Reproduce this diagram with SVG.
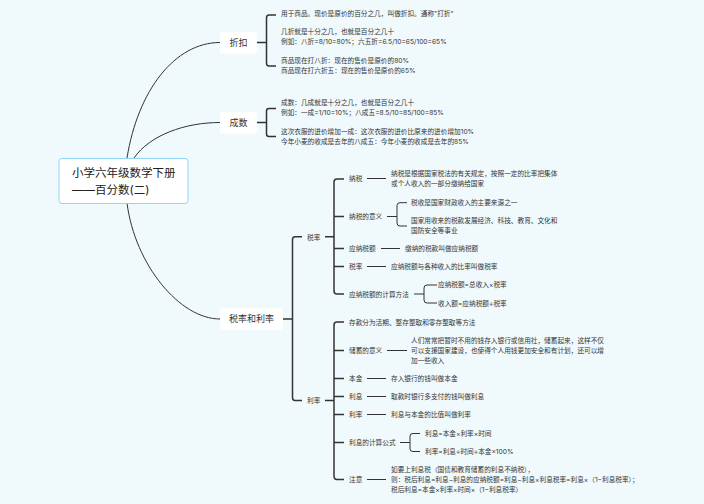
<svg xmlns="http://www.w3.org/2000/svg" width="704" height="504" viewBox="0 0 704 504">
<style>
text{font-family:"Inter","Noto Sans CJK SC",sans-serif;fill:#333;font-size:6.67px}
.b{font-size:9px;text-anchor:middle}
.r{font-size:11.5px;fill:#222}
.p{fill:#fff}
#c path{fill:none;stroke:#333;stroke-width:1}
#c .s{stroke-width:1.5}
</style>
<rect width="704" height="504" fill="#f0f9fc"/>
<g id="c">
<path d="M127 158C138 90 175 42.5 220 42.5"/>
<path d="M134 158C150 135 185 122.5 220 122.5"/>
<path d="M127 203C135 265 180 319 220 319"/>
<path class="s" d="M257 42.5H266M276 15H269Q266.500 15 266.500 18V63Q266.500 66 269 66H276"/>
<path class="s" d="M257 122.500H266M276 108.500H269Q266.500 108.500 266.500 111V134Q266.500 136.500 269 136.500H276"/>
<path class="s" d="M283 319H292M302 236.700H295Q292.500 236.700 292.500 239.500V397.500Q292.500 400.500 295 400.500H302"/>
<path class="s" d="M325 236.700H334M344 179H337Q334 179 334 182V291Q334 294 337 294H344M334 216.500H344M334 248.500H344M334 266.500H344"/>
<path class="s" d="M325 400.500H334M344 322H337Q334 322 334 325V476Q334 479.500 337 479.500H344M334 350.500H344M334 378.500H344M334 396.500H344M334 414.500H344M334 442.500H344"/>
<path d="M367 178.500H386M381 248.500H400M367 266.500H386M387 350.500H407M367 378.500H386M367 396.500H386M367 414.500H386M367 479.500H386"/>
<path d="M387 216.500H397M407 202.700H400Q397 202.700 397 205.500V223Q397 226 400 226H407"/>
<path d="M414 294H424M437 285H427Q424 285 424 288V300Q424 303 427 303H437"/>
<path d="M400 442.500H410M420 433.500H413Q410 433.500 410 436V449Q410 451.500 413 451.500H420"/>
</g>
<g id="root"><rect x="59" y="158.500" width="129" height="45" rx="3" fill="#fff" stroke="#8fd8fb" stroke-width="1"/><text class="r" x="72" y="177">小学六年级数学下册</text><text class="r" x="72" y="194">——百分数(二)</text></g>
<g id="zhekou"><rect class="p" x="220" y="32" width="37" height="21.500" rx="3"/><text class="b" x="238.500" y="46">折扣</text>
<text x="281" y="16">用于商品。现价是原价的百分之几，叫做折扣。通称"打折"</text>
<text x="281" y="34">几折就是十分之几，也就是百分之几十</text>
<text x="281" y="44">例如：八折=8/10=80%；六五折=6.5/10=65/100=65%</text>
<text x="281" y="63">商品现在打八折：现在的售价是原价的80%</text>
<text x="281" y="73">商品现在打六折五：现在的售价是原价的65%</text></g>
<g id="chengshu"><rect class="p" x="220" y="112" width="37" height="21.500" rx="3"/><text class="b" x="238.500" y="126">成数</text>
<text x="281" y="105">成数：几成就是十分之几，也就是百分之几十</text>
<text x="281" y="115">例如：一成=1/10=10%；八成五=8.5/10=85/100=85%</text>
<text x="281" y="134">这次衣服的进价增加一成：这次衣服的进价比原来的进价增加10%</text>
<text x="281" y="144">今年小麦的收成是去年的八成五：今年小麦的收成是去年的85%</text></g>
<g id="shuilv-lilv"><rect class="p" x="220" y="308" width="63" height="22" rx="3"/><text class="b" x="251.500" y="322">税率和利率</text></g>
<g id="shuilv"><text x="307" y="239.500">税率</text></g>
<g id="nashui"><text x="349" y="181">纳税</text><text x="391" y="176">纳税是根据国家税法的有关规定，按照一定的比率把集体</text><text x="391" y="186">或个人收入的一部分缴纳给国家</text></g>
<g id="nashui-yiyi"><text x="349" y="219">纳税的意义</text><text x="411" y="205">税收是国家财政收入的主要来源之一</text><text x="411" y="223">国家用收来的税款发展经济、科技、教育、文化和</text><text x="411" y="233">国防安全等事业</text></g>
<g id="yingna"><text x="349" y="251">应纳税额</text><text x="405" y="251">缴纳的税款叫做应纳税额</text></g>
<g id="shuilv2"><text x="349" y="269">税率</text><text x="391" y="269">应纳税额与各种收入的比率叫做税率</text></g>
<g id="jisuan"><text x="349" y="296.500">应纳税额的计算方法</text><text x="438" y="287">应纳税额=总收入×税率</text><text x="438" y="306">收入额=应纳税额÷税率</text></g>
<g id="lilv"><text x="307" y="403">利率</text></g>
<g id="cunkuan"><text x="349" y="324.500">存款分为活期、整存整取和零存整取等方法</text></g>
<g id="chuxu"><text x="349" y="353">储蓄的意义</text><text x="411" y="343">人们常常把暂时不用的钱存入银行或信用社，储蓄起来，这样不仅</text><text x="411" y="353">可以支援国家建设，也使得个人用钱更加安全和有计划，还可以增</text><text x="411" y="363">加一些收入</text></g>
<g id="benjin"><text x="349" y="381">本金</text><text x="391" y="381">存入银行的钱叫做本金</text></g>
<g id="lixi"><text x="349" y="399">利息</text><text x="391" y="399">取款时银行多支付的钱叫做利息</text></g>
<g id="lilv2"><text x="349" y="417">利率</text><text x="391" y="417">利息与本金的比值叫做利率</text></g>
<g id="gongshi"><text x="349" y="445">利息的计算公式</text><text x="425" y="436">利息=本金×利率×时间</text><text x="425" y="454">利率=利息÷时间÷本金×100%</text></g>
<g id="zhuyi"><text x="349" y="482">注意</text><text x="391" y="472">如要上利息税（国债和教育储蓄的利息不纳税），</text><text x="391" y="482">则：税后利息=利息−利息的应纳税额=利息−利息×利息税率=利息×（1−利息税率）；</text><text x="391" y="492">税后利息=本金×利率×时间×（1−利息税率）</text></g>
</svg>
